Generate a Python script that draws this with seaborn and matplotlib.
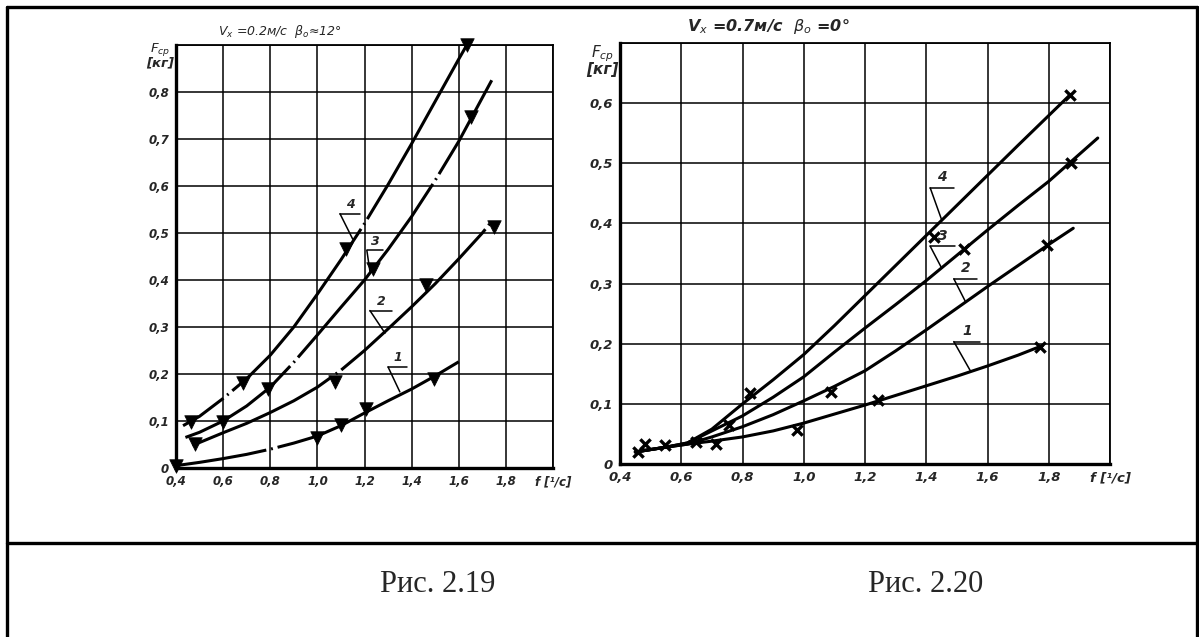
import numpy as np
import pandas as pd
import matplotlib
matplotlib.use("Agg")
import matplotlib.pyplot as plt
from matplotlib.lines import Line2D
import seaborn as sns

# ---- Рис. 2.19 : Vx = 0.2 м/с, beta0 = 12 deg ----
l1_f = [0.40, 0.50, 0.60, 0.70, 0.80, 0.90, 1.00, 1.10, 1.20, 1.30, 1.40, 1.50, 1.60]
l1_F = [0.005, 0.012, 0.020, 0.029, 0.040, 0.053, 0.068, 0.090, 0.117, 0.143, 0.168, 0.196, 0.226]
l2_f = [0.47, 0.60, 0.70, 0.80, 0.90, 1.00, 1.10, 1.20, 1.30, 1.40, 1.50, 1.60, 1.70, 1.74]
l2_F = [0.048, 0.075, 0.095, 0.118, 0.143, 0.172, 0.208, 0.250, 0.296, 0.343, 0.392, 0.445, 0.500, 0.525]
l3_f = [0.44, 0.50, 0.60, 0.70, 0.80, 0.90, 1.00, 1.10, 1.20, 1.30, 1.40, 1.50, 1.60, 1.74]
l3_F = [0.065, 0.076, 0.100, 0.132, 0.172, 0.225, 0.283, 0.342, 0.400, 0.465, 0.535, 0.612, 0.695, 0.825]
l4_f = [0.43, 0.50, 0.60, 0.70, 0.80, 0.90, 1.00, 1.10, 1.20, 1.30, 1.40, 1.50, 1.60, 1.64]
l4_F = [0.090, 0.110, 0.148, 0.190, 0.240, 0.300, 0.370, 0.443, 0.520, 0.603, 0.690, 0.780, 0.870, 0.905]

l1_pf = [0.40, 1.00, 1.10, 1.205, 1.495]
l1_pF = [0.005, 0.063, 0.091, 0.125, 0.19]
l2_pf = [0.48, 1.075, 1.46, 1.75]
l2_pF = [0.051, 0.182, 0.389, 0.512]
l3_pf = [0.60, 0.79, 1.237, 1.65]
l3_pF = [0.098, 0.169, 0.424, 0.746]
l4_pf = [0.464, 0.686, 1.12, 1.634]
l4_pF = [0.098, 0.18, 0.466, 0.90]

# ---- Рис. 2.20 : Vx = 0.7 м/с, beta0 = 0 deg ----
r1_f = [0.45, 0.55, 0.62, 0.70, 0.80, 0.90, 1.00, 1.10, 1.20, 1.30, 1.40, 1.50, 1.60, 1.70, 1.78]
r1_F = [0.020, 0.028, 0.033, 0.038, 0.045, 0.055, 0.068, 0.083, 0.098, 0.114, 0.130, 0.146, 0.163, 0.181, 0.197]
r2_f = [0.45, 0.55, 0.62, 0.70, 0.80, 0.90, 1.00, 1.10, 1.20, 1.30, 1.40, 1.50, 1.60, 1.70, 1.80, 1.88]
r2_F = [0.020, 0.028, 0.033, 0.045, 0.062, 0.082, 0.105, 0.129, 0.155, 0.188, 0.223, 0.259, 0.295, 0.330, 0.365, 0.392]
r3_f = [0.45, 0.55, 0.62, 0.70, 0.80, 0.90, 1.00, 1.10, 1.20, 1.30, 1.40, 1.50, 1.60, 1.70, 1.80, 1.96]
r3_F = [0.020, 0.028, 0.035, 0.055, 0.080, 0.111, 0.145, 0.186, 0.226, 0.265, 0.305, 0.347, 0.389, 0.430, 0.470, 0.542]
r4_f = [0.45, 0.55, 0.62, 0.70, 0.80, 0.90, 1.00, 1.10, 1.20, 1.30, 1.40, 1.50, 1.60, 1.70, 1.87]
r4_F = [0.020, 0.028, 0.035, 0.058, 0.100, 0.140, 0.182, 0.230, 0.280, 0.330, 0.380, 0.430, 0.480, 0.530, 0.614]

r1_pf = [0.459, 0.482, 0.547, 0.714, 0.979, 1.244, 1.773]
r1_pF = [0.02, 0.034, 0.032, 0.034, 0.057, 0.107, 0.195]
r2_pf = [0.647, 1.09, 1.794]
r2_pF = [0.037, 0.12, 0.364]
r3_pf = [0.757, 1.522, 1.873]
r3_pF = [0.065, 0.357, 0.50]
r4_pf = [0.824, 1.424, 1.87]
r4_pF = [0.118, 0.378, 0.614]

x_ticks = [0.4, 0.6, 0.8, 1.0, 1.2, 1.4, 1.6, 1.8, 2.0]
x_labels = ["0,4", "0,6", "0,8", "1,0", "1,2", "1,4", "1,6", "1,8", "f [¹/с]"]
left_y_ticks = [0.0, 0.1, 0.2, 0.3, 0.4, 0.5, 0.6, 0.7, 0.8, 0.9]
left_y_labels = ["0", "0,1", "0,2", "0,3", "0,4", "0,5", "0,6", "0,7", "0,8", ""]
right_y_ticks = [0.0, 0.1, 0.2, 0.3, 0.4, 0.5, 0.6, 0.7]
right_y_labels = ["0", "0,1", "0,2", "0,3", "0,4", "0,5", "0,6", ""]

# curve tags: number, shelf x0, shelf x1, shelf y, leader end x, leader end y
left_tags = [("1", 1.30, 1.38, 0.215, 1.35, 0.162),
             ("2", 1.223, 1.316, 0.335, 1.287, 0.287),
             ("3", 1.21, 1.28, 0.463, 1.224, 0.415),
             ("4", 1.096, 1.181, 0.541, 1.15, 0.487)]
right_tags = [("1", 1.49, 1.575, 0.2035, 1.544, 0.155),
              ("2", 1.49, 1.566, 0.308, 1.528, 0.27),
              ("3", 1.413, 1.495, 0.362, 1.448, 0.328),
              ("4", 1.413, 1.489, 0.459, 1.451, 0.405)]

sns.set_style("white")
plt.rcParams["font.family"] = ["DejaVu Sans"]
plt.rcParams["mathtext.fontset"] = "dejavusans"

W, H = 1199, 637
fig = plt.figure(figsize=(W / 100, H / 100), dpi=100)
fig.patch.set_facecolor("white")


def px_rect(x0, y0, x1, y1):
    return [x0 / W, 1 - y1 / H, (x1 - x0) / W, (y1 - y0) / H]


ax_l = fig.add_axes(px_rect(176, 45, 553, 468))
ax_r = fig.add_axes(px_rect(620, 43, 1110, 464))

hand = dict(fontstyle="italic", fontweight="bold", family="DejaVu Sans")


def style_axes(ax, ymax, yticks, ylabels, fs):
    ax.set_xlim(0.4, 2.0)
    ax.set_ylim(0.0, ymax)
    ax.set_xticks(x_ticks)
    ax.set_xticklabels(x_labels, fontsize=fs, **hand)
    ax.set_yticks(yticks)
    ax.set_yticklabels(ylabels, fontsize=fs, **hand)
    ax.tick_params(length=0, pad=5)
    ax.grid(True, color="black", linewidth=1.1)
    ax.set_axisbelow(True)
    for side in ("left", "bottom"):
        ax.spines[side].set_linewidth(2.4)
    for side in ("top", "right"):
        ax.spines[side].set_linewidth(1.3)
    for sp in ax.spines.values():
        sp.set_color("black")
    ax.set_xlabel("")
    ax.set_ylabel("")


def draw_tags(ax, tags, fs):
    for num, x0, x1, y, xe, ye in tags:
        ax.plot([x0, x1], [y, y], color="black", lw=1.1)
        ax.plot([x0, xe], [y, ye], color="black", lw=1.1)
        ax.text((x0 + x1) / 2, y + 0.006, num, ha="center", va="bottom",
                fontsize=fs, **hand)


# left panel: hand-drawn curves broken by occasional dash-dot gaps
left_dashes = [(40, (70, 1.6, 0.6, 1.6)), (15, (66, 1.6, 0.6, 1.6)),
               (30, (72, 1.6, 0.6, 1.6)), (52, (68, 1.6, 0.6, 1.6))]
for (f, F), ls in zip([(l1_f, l1_F), (l2_f, l2_F), (l3_f, l3_F), (l4_f, l4_F)],
                      left_dashes):
    sns.lineplot(x=f, y=F, ax=ax_l, color="black", linewidth=2.2, sort=False,
                 linestyle=ls)
for f, F in [(l1_pf, l1_pF), (l2_pf, l2_pF), (l3_pf, l3_pF), (l4_pf, l4_pF)]:
    sns.scatterplot(x=f, y=F, ax=ax_l, marker="v", s=95, color="black",
                    edgecolor="black", linewidth=0.5, zorder=5, clip_on=False)
style_axes(ax_l, 0.9, left_y_ticks, left_y_labels, 8.5)
draw_tags(ax_l, left_tags, 9)

# right panel
for f, F in [(r1_f, r1_F), (r2_f, r2_F), (r3_f, r3_F), (r4_f, r4_F)]:
    sns.lineplot(x=f, y=F, ax=ax_r, color="black", linewidth=2.2, sort=False)
for f, F in [(r1_pf, r1_pF), (r2_pf, r2_pF), (r3_pf, r3_pF), (r4_pf, r4_pF)]:
    sns.scatterplot(x=f, y=F, ax=ax_r, marker="x", s=55, color="black",
                    linewidth=2.4, zorder=5)
style_axes(ax_r, 0.7, right_y_ticks, right_y_labels, 9.5)
draw_tags(ax_r, right_tags, 10)

# axis captions and headings
fig.text(160 / W, 1 - 55 / H, "$F_{ср}$\n[кг]", ha="center", va="center",
         fontsize=9.5, linespacing=0.85, **hand)
fig.text(602 / W, 1 - 60 / H, "$F_{ср}$\n[кг]", ha="center", va="center",
         fontsize=11, linespacing=0.85, **hand)
fig.text(280 / W, 1 - 32 / H, r"V$_x$ =0.2м/с  $\beta_o$≈12°", ha="center",
         va="center", fontsize=9, fontstyle="italic", family="DejaVu Sans")
fig.text(768 / W, 1 - 26 / H, r"V$_x$ =0.7м/с  $\beta_o$ =0°", ha="center",
         va="center", fontsize=11.5, **hand)

# figure captions
fig.text(438 / W, 1 - 584 / H, "Рис. 2.19", ha="center", va="center",
         fontsize=22, family="Liberation Serif")
fig.text(926 / W, 1 - 584 / H, "Рис. 2.20", ha="center", va="center",
         fontsize=22, family="Liberation Serif")

# table frame around the figure
frame_lw = 2.4
for xs, ys in [([7, 1197], [7, 7]), ([7, 1197], [543, 543]),
               ([7, 7], [7, 640]), ([1197, 1197], [7, 640])]:
    fig.add_artist(Line2D([x / W for x in xs], [1 - y / H for y in ys],
                          color="black", linewidth=frame_lw))

fig.savefig("out.png", dpi=100, facecolor="white")
